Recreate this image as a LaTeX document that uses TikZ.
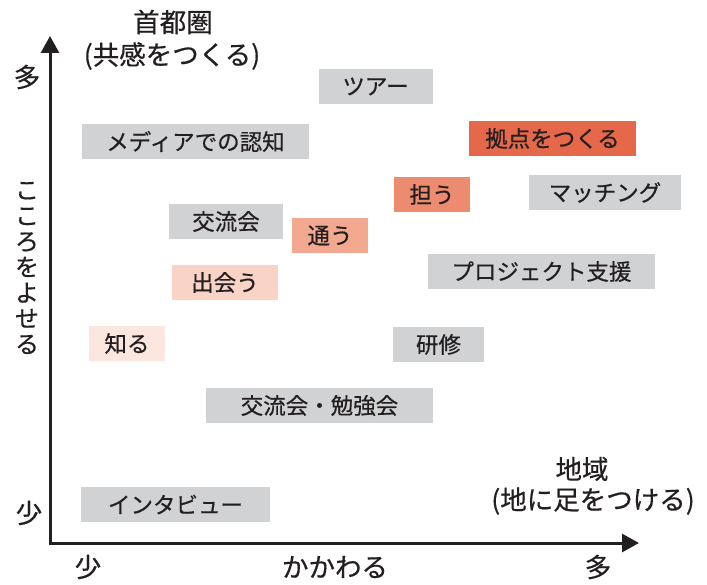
\documentclass[tikz,border=0pt]{standalone}
\usepackage{fontspec}
\setmainfont{Noto Sans CJK JP}[FakeBold=0.5]
\usetikzlibrary{arrows.meta}
\definecolor{boxgray}{HTML}{D1D2D4}
\definecolor{ink}{HTML}{231F20}
\definecolor{redA}{HTML}{E5684B}
\definecolor{redB}{HTML}{EC8B6F}
\definecolor{redC}{HTML}{F2A98F}
\definecolor{redD}{HTML}{F9D4C6}
\definecolor{redE}{HTML}{FCE7DF}
\tikzset{
  box/.style={inner sep=0pt, minimum height=35pt, text=ink, font=\fontsize{22.5}{26}\selectfont},
  axislabel/.style={inner sep=0pt, text=ink, font=\fontsize{26.5}{30}\selectfont},
  axisline/.style={line width=3pt, draw=ink, line join=miter},
}
\begin{document}
\begin{tikzpicture}[x=1pt,y=-1pt]
\useasboundingbox (0,0) rectangle (707,585);
% axes
\coordinate (o) at (50,543);
\coordinate (ytip) at (50,36);
\coordinate (xtip) at (639,543);
\draw[axisline, {Triangle[width=18pt,length=17pt]}-{Triangle[width=18pt,length=17pt]}] (ytip) -- (o) -- (xtip);
% axis labels
\node[axislabel] (ttl1) at (173,22) {首都圏};
\node[axislabel] (ttl2) at (172,56) {(共感をつくる)};
\node[axislabel] (ymany) at (27,77) {多};
\node[axislabel] (yfew) at (29,513) {少};
\node[axislabel, align=center, font=\fontsize{24}{25.7}\selectfont] (yname) at (27,268) {こ\\こ\\ろ\\を\\よ\\せ\\る};
\node[axislabel] (xfew) at (88,567) {少};
\node[axislabel] (xname) at (335,567) {かかわる};
\node[axislabel] (xmany) at (598,567) {多};
\node[axislabel] (rt1) at (582,469) {地域};
\node[axislabel] (rt2) at (593,501) {(地に足をつける)};
% boxes
\node[box, fill=boxgray, minimum width=114pt] (tour) at (375.5,86.5) {ツアー};
\node[box, fill=redA, minimum width=167pt] (kyoten) at (552.5,138.5) {拠点をつくる};
\node[box, fill=boxgray, minimum width=227pt] (media) at (195.5,141.5) {メディアでの認知};
\node[box, fill=redB, minimum width=76pt] (ninau) at (432,194.5) {担う};
\node[box, fill=boxgray, minimum width=152pt] (match) at (605,192.5) {マッチング};
\node[box, fill=boxgray, minimum width=114pt] (kouryu) at (226,221.5) {交流会};
\node[box, fill=redC, minimum width=76pt] (kayou) at (330,235.5) {通う};
\node[box, fill=redD, minimum width=106pt] (deau) at (225,282.5) {出会う};
\node[box, fill=boxgray, minimum width=227pt] (proj) at (541.5,271.5) {プロジェクト支援};
\node[box, fill=redE, minimum width=76pt] (shiru) at (127,343.5) {知る};
\node[box, fill=boxgray, minimum width=91pt] (kenshu) at (438.5,344.5) {研修};
\node[box, fill=boxgray, minimum width=227pt] (benkyo) at (319.5,405.5) {交流会・勉強会};
\node[box, fill=boxgray, minimum width=189pt] (interview) at (175.5,504.5) {インタビュー};
\end{tikzpicture}
\end{document}
